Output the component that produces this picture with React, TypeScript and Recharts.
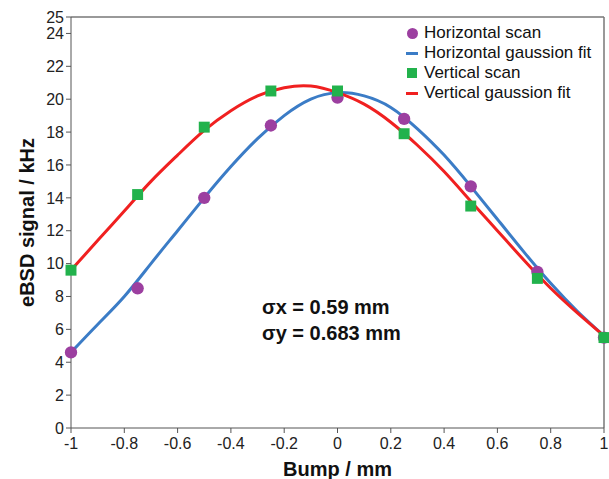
import { ComposedChart, Line, Scatter, XAxis, YAxis, ZAxis, ReferenceLine } from 'recharts';

const scanX = [-1, -0.75, -0.5, -0.25, 0, 0.25, 0.5, 0.75, 1];
const horizontalScan = [4.6, 8.5, 14.0, 18.4, 20.1, 18.8, 14.7, 9.5, 5.5];
const verticalScan = [9.6, 14.2, 18.3, 20.5, 20.5, 17.9, 13.5, 9.1, 5.5];

const fitX = [-1, -0.9, -0.8, -0.7, -0.6, -0.5, -0.4, -0.3, -0.2, -0.1, 0, 0.1, 0.2, 0.3, 0.4, 0.5, 0.6, 0.7, 0.8, 0.9, 1];
const horizontalFit = [4.6, 6.3, 8.0, 10.0, 12.0, 14.0, 15.9, 17.6, 19.0, 20.0, 20.4, 20.2, 19.5, 18.2, 16.6, 14.7, 12.7, 10.7, 8.8, 7.1, 5.6];
const verticalFit = [9.6, 11.4, 13.2, 15.0, 16.6, 18.1, 19.3, 20.2, 20.7, 20.8, 20.4, 19.7, 18.6, 17.2, 15.6, 13.8, 12.0, 10.2, 8.5, 7.0, 5.6];

const xTicks = [-1, -0.8, -0.6, -0.4, -0.2, 0, 0.2, 0.4, 0.6, 0.8, 1];
const yTicks = [0, 2, 4, 6, 8, 10, 12, 14, 16, 18, 20, 22, 24, 25];

const sigmaLabels = ['σx = 0.59 mm', 'σy = 0.683 mm'];

const PURPLE = '#9c3fa0';
const BLUE = '#3b7cc6';
const GREEN = '#22b24c';
const RED = '#f02020';
const FONT = '"Liberation Sans", Arial, sans-serif';

const hScan = scanX.map((x, i) => ({ x, y: horizontalScan[i] }));
const vScan = scanX.map((x, i) => ({ x, y: verticalScan[i] }));
const hFit = fitX.map((x, i) => ({ x, y: horizontalFit[i] }));
const vFit = fitX.map((x, i) => ({ x, y: verticalFit[i] }));

const legendItems = [
  { name: 'Horizontal scan', color: PURPLE, kind: 'circle' },
  { name: 'Horizontal gaussion fit', color: BLUE, kind: 'line' },
  { name: 'Vertical scan', color: GREEN, kind: 'square' },
  { name: 'Vertical gaussion fit', color: RED, kind: 'line' },
];

function LegendBox() {
  return (
    <div style={{ position: 'absolute', left: 406, top: 23, fontFamily: FONT, fontSize: 17, color: '#111' }}>
      {legendItems.map((it) => (
        <div key={it.name} style={{ display: 'flex', alignItems: 'center', height: 20 }}>
          <span style={{ width: 12, display: 'inline-flex', justifyContent: 'center', marginRight: 6 }}>
            {it.kind === 'circle' && <span style={{ width: 11, height: 11, borderRadius: '50%', background: it.color }} />}
            {it.kind === 'square' && <span style={{ width: 10, height: 10, background: it.color }} />}
            {it.kind === 'line' && <span style={{ width: 12, height: 3, background: it.color }} />}
          </span>
          <span>{it.name}</span>
        </div>
      ))}
    </div>
  );
}

export default function App() {
  return (
    <div style={{ position: 'absolute', left: 0, top: 0, width: 609, height: 479, background: '#fff' }}>
      <ComposedChart width={609} height={479} margin={{ top: 17, right: 5, bottom: 0, left: 26 }}>
        <XAxis
          type="number"
          dataKey="x"
          domain={[-1, 1]}
          ticks={xTicks}
          interval={0}
          height={51}
          tickSize={5}
          tickMargin={5}
          stroke="#555"
          tick={{ fill: '#222', fontSize: 16, fontFamily: FONT }}
          label={{ value: 'Bump / mm', position: 'insideBottom', offset: 3, style: { fontSize: 20, fontWeight: 'bold', fill: '#111', fontFamily: FONT } }}
        />
        <YAxis
          type="number"
          dataKey="y"
          domain={[0, 25]}
          ticks={yTicks}
          interval={0}
          width={45}
          tickSize={5}
          tickMargin={2}
          stroke="#555"
          tick={{ fill: '#222', fontSize: 16, fontFamily: FONT }}
          label={{ value: 'eBSD signal / kHz', angle: -90, position: 'insideLeft', offset: 1, style: { textAnchor: 'middle', fontSize: 20, fontWeight: 'bold', fill: '#111', fontFamily: FONT } }}
        />
        <ZAxis type="number" range={[120, 120]} />
        <ReferenceLine y={25} stroke="#777" strokeWidth={1.5} />
        <ReferenceLine x={1} stroke="#777" strokeWidth={1.5} />
        <Scatter data={hScan} dataKey="y" fill={PURPLE} shape="circle" isAnimationActive={false} />
        <Scatter data={vScan} dataKey="y" fill={GREEN} shape="square" isAnimationActive={false} />
        <Line data={hFit} dataKey="y" type="natural" stroke={BLUE} strokeWidth={3} dot={false} activeDot={false} isAnimationActive={false} />
        <Line data={vFit} dataKey="y" type="natural" stroke={RED} strokeWidth={3} dot={false} activeDot={false} isAnimationActive={false} />
      </ComposedChart>
      <LegendBox />
      <div style={{ position: 'absolute', left: 262, top: 294, fontFamily: FONT, fontSize: 20, fontWeight: 'bold', color: '#111', lineHeight: '26px' }}>
        {sigmaLabels.map((s) => (
          <div key={s}>{s}</div>
        ))}
      </div>
    </div>
  );
}
